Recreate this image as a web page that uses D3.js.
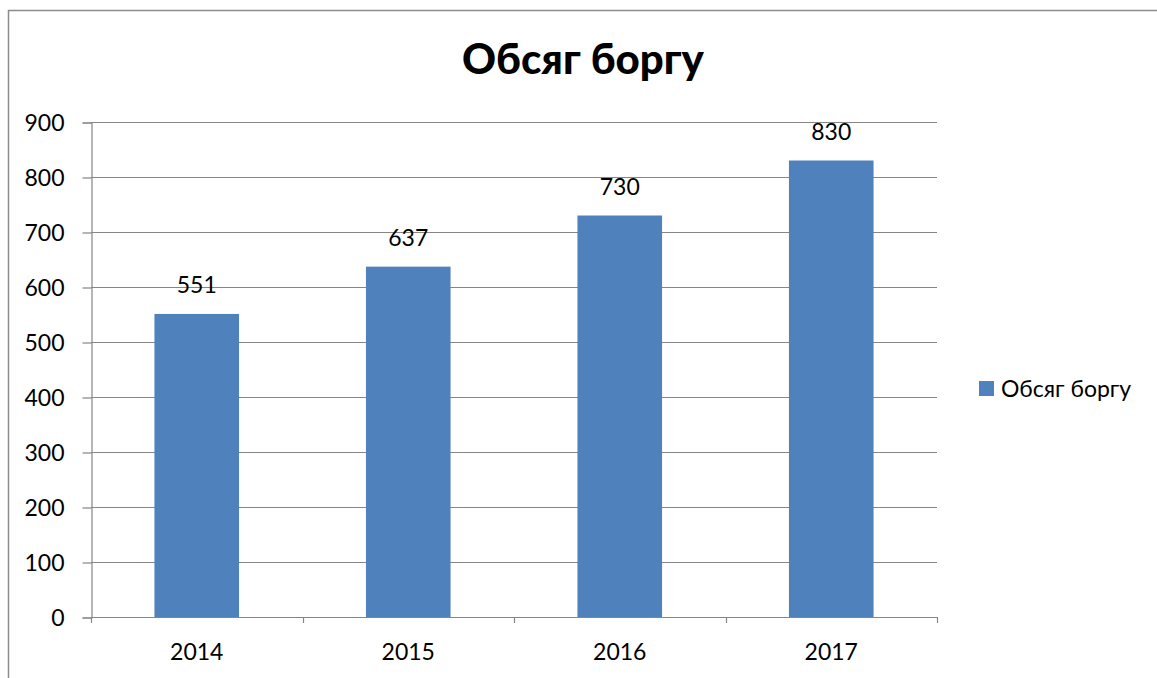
<!DOCTYPE html>
<html>
<head>
<meta charset="utf-8">
<script src="https://cdn.jsdelivr.net/npm/d3@7"></script>
<style>
  html, body { margin: 0; padding: 0; background: #fff; }
  svg { display: block; font-family: Lato, "Open Sans", sans-serif; }
</style>
</head>
<body>
<svg id="chart" width="1157" height="678"></svg>
<script>
// Debt volume by year
const years = ["2014", "2015", "2016", "2017"];
const debt = [551, 637, 730, 830];
const yTicks = [0, 100, 200, 300, 400, 500, 600, 700, 800, 900];
const title = "Обсяг боргу";
const seriesName = "Обсяг боргу";

const svg = d3.select("#chart");
const gridColor = "#868686";
const barColor = "#4F81BD";

// outer chart frame
svg.append("rect")
  .attr("x", 8.5).attr("y", 10.5)
  .attr("width", 1200).attr("height", 700)
  .attr("fill", "none").attr("stroke", "#8c8c8c").attr("stroke-width", 1.5);

const plot = { left: 91, right: 937, top: 122, bottom: 617 };

const x = d3.scaleBand().domain(years).range([plot.left, plot.right]).paddingInner(0.6).paddingOuter(0.3);
const xEdges = d3.scaleLinear().domain([0, years.length]).range([plot.left, plot.right]);
const y = d3.scaleLinear().domain([0, 900]).range([plot.bottom, plot.top]);

// horizontal gridlines
svg.append("g").selectAll("line").data(yTicks.filter(d => d > 0)).join("line")
  .attr("x1", plot.left).attr("x2", plot.right)
  .attr("y1", d => Math.round(y(d)) + 0.5).attr("y2", d => Math.round(y(d)) + 0.5)
  .attr("stroke", gridColor).attr("stroke-width", 1.2);

// bars
svg.append("g").selectAll("rect").data(debt).join("rect")
  .attr("x", (d, i) => x(years[i]))
  .attr("width", x.bandwidth())
  .attr("y", d => y(d))
  .attr("height", d => y(0) - y(d))
  .attr("fill", barColor);

// y axis
const yAxis = d3.axisLeft(y).tickValues(yTicks).tickSize(9).tickPadding(18).tickFormat(d3.format("d"));
const gy = svg.append("g").attr("transform", `translate(${plot.left + 0.5},0.5)`).call(yAxis);
gy.select(".domain").attr("stroke", gridColor).attr("stroke-width", 1.2);
gy.selectAll(".tick line").attr("stroke", gridColor).attr("stroke-width", 1.2);
gy.selectAll(".tick text").attr("font-size", 23).attr("fill", "#000").attr("font-family", "Lato").attr("dy", "0.36em");

// x axis baseline with category boundary ticks
svg.append("line")
  .attr("x1", plot.left).attr("x2", plot.right)
  .attr("y1", y(0) + 0.5).attr("y2", y(0) + 0.5)
  .attr("stroke", gridColor).attr("stroke-width", 1.2);
svg.append("g").selectAll("line").data(d3.range(years.length + 1)).join("line")
  .attr("x1", d => Math.round(xEdges(d)) + 0.5).attr("x2", d => Math.round(xEdges(d)) + 0.5)
  .attr("y1", y(0)).attr("y2", y(0) + 6)
  .attr("stroke", gridColor).attr("stroke-width", 1.2);

// x labels
svg.append("g").selectAll("text").data(years).join("text")
  .attr("x", d => x(d) + x.bandwidth() / 2)
  .attr("y", 660)
  .attr("text-anchor", "middle")
  .attr("font-size", 23).attr("fill", "#000")
  .text(d => d);

// value labels
svg.append("g").selectAll("text").data(debt).join("text")
  .attr("x", (d, i) => x(years[i]) + x.bandwidth() / 2)
  .attr("y", d => y(d) - 21)
  .attr("text-anchor", "middle")
  .attr("font-size", 23).attr("fill", "#000")
  .text(d => d);

// title
svg.append("text")
  .attr("x", 583).attr("y", 74)
  .attr("text-anchor", "middle")
  .attr("font-size", 42).attr("font-weight", "900").attr("fill", "#000")
  .text(title);

// legend
const lg = svg.append("g");
lg.append("rect").attr("x", 979).attr("y", 381).attr("width", 15).attr("height", 15).attr("fill", barColor);
lg.append("text").attr("x", 1001).attr("y", 397).attr("font-size", 23).attr("fill", "#000").text(seriesName);
</script>
</body>
</html>
